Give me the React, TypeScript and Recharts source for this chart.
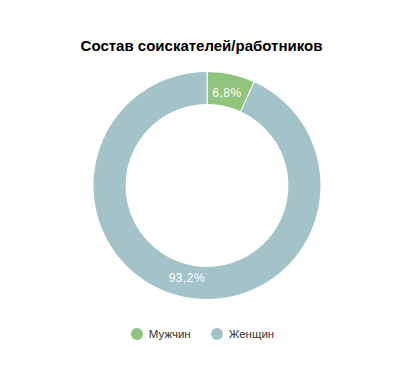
import { PieChart, Pie, Cell, Legend } from "recharts";

const categories = ["Мужчин", "Женщин"];
const shares = [6.8, 93.2];
const colors = ["#90c47e", "#a3c3c8"];

const data = categories.map((name, i) => ({ name, value: shares[i] }));

const RADIAN = Math.PI / 180;
const FONT = "Liberation Sans, Arial, sans-serif";

function renderLabel(props: any) {
  const { cx, cy, midAngle, innerRadius, outerRadius, value } = props;
  const r = (innerRadius + outerRadius) / 2 - 3;
  const x = cx + r * Math.cos(-midAngle * RADIAN);
  const y = cy + r * Math.sin(-midAngle * RADIAN);
  return (
    <text
      x={x}
      y={y}
      fill="#ffffff"
      fontSize={12}
      fontFamily={FONT}
      letterSpacing={0.5}
      textAnchor="middle"
      dominantBaseline="central"
    >
      {String(value).replace(".", ",") + "%"}
    </text>
  );
}

function renderLegend() {
  return (
    <div
      style={{
        display: "flex",
        justifyContent: "center",
        alignItems: "center",
        fontFamily: FONT,
        fontSize: 11.5,
        color: "#333",
      }}
    >
      {categories.map((name, i) => (
        <div
          key={name}
          style={{ display: "flex", alignItems: "center", margin: "0 10px" }}
        >
          <span
            style={{
              display: "inline-block",
              width: 12,
              height: 12,
              borderRadius: 6,
              background: colors[i],
              marginRight: 6,
            }}
          />
          <span>{name}</span>
        </div>
      ))}
    </div>
  );
}

export default function App() {
  return (
    <div
      style={{
        position: "absolute",
        left: 0,
        top: 0,
        width: 413,
        height: 371,
        background: "#ffffff",
        fontFamily: FONT,
      }}
    >
      <div
        style={{
          position: "absolute",
          left: 0,
          top: 37,
          width: 403,
          textAlign: "center",
          fontSize: 15,
          fontWeight: "bold",
          color: "#000",
        }}
      >
        Состав соискателей/работников
      </div>
      <PieChart
        width={413}
        height={371}
        margin={{ top: 0, right: 0, bottom: 0, left: 0 }}
      >
        <Pie
          data={data}
          dataKey="value"
          nameKey="name"
          cx={207}
          cy={185.5}
          innerRadius={81}
          outerRadius={114}
          startAngle={90}
          endAngle={-270}
          stroke="#ffffff"
          strokeWidth={1}
          labelLine={false}
          label={renderLabel}
          isAnimationActive={false}
        >
          {data.map((d, i) => (
            <Cell key={d.name} fill={colors[i]} />
          ))}
        </Pie>
        <Legend
          verticalAlign="bottom"
          content={renderLegend}
          wrapperStyle={{ top: 328, left: -4, width: 413, bottom: "auto" }}
        />
      </PieChart>
    </div>
  );
}
